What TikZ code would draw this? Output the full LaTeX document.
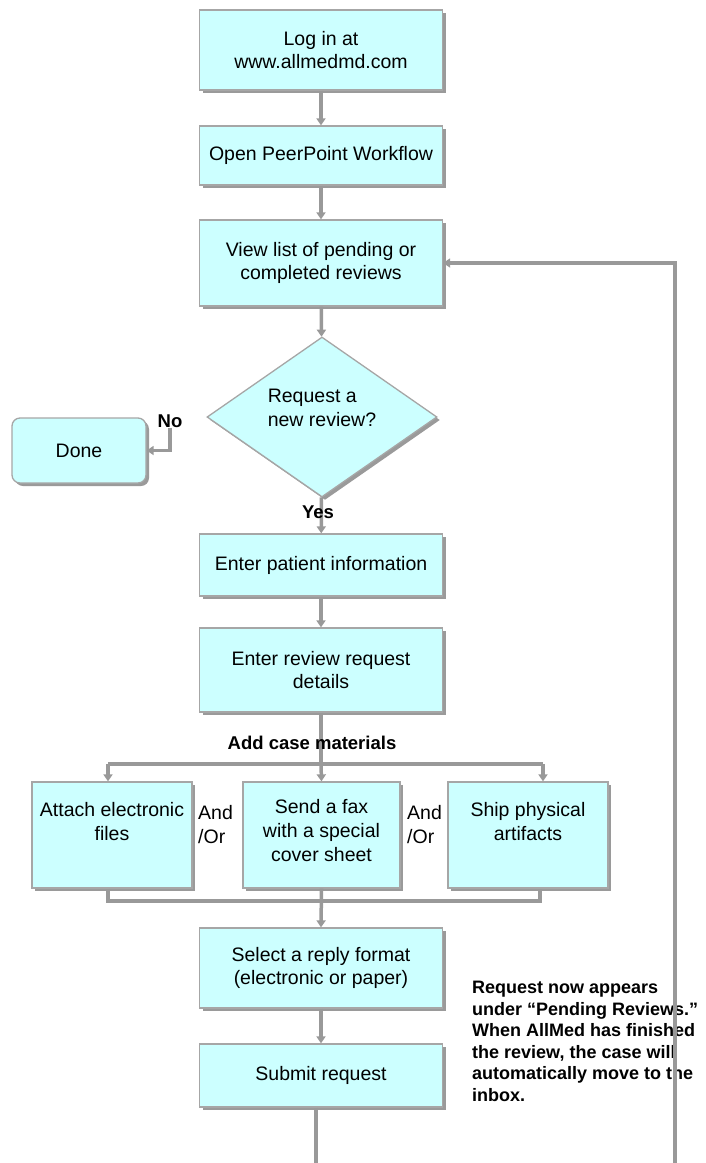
\documentclass[tikz,border=0pt]{standalone}
\usepackage{fontspec}
\setmainfont{Liberation Sans}
\usetikzlibrary{arrows.meta,shapes.geometric,shadows}
\definecolor{boxfill}{HTML}{CCFFFF}
\definecolor{linegray}{HTML}{999999}
\definecolor{edgegray}{HTML}{A6A6A6}
\definecolor{shadowgray}{HTML}{9A9A9A}
\begin{document}
\begin{tikzpicture}[x=1pt,y=-1pt,
  base/.style={draw=edgegray, line width=1.3pt, fill=boxfill, inner sep=0pt,
    drop shadow={shadow xshift=3pt, shadow yshift=-3pt, fill=shadowgray, opacity=1}},
  box/.style={base, align=center, font=\fontsize{19.5}{23}\selectfont},
  txt/.style={align=center, font=\fontsize{19.5}{24}\selectfont, inner sep=0pt},
  lbl/.style={font=\fontsize{18.5}{21}\selectfont\bfseries, inner sep=0pt},
  conn/.style={draw=linegray, line width=3.5pt},
  arr/.style={conn, -{Triangle[length=7pt,width=9pt]}}]
\useasboundingbox (0,0) rectangle (705,1163);

% main column
\node[box, minimum width=243pt, minimum height=80pt] (log) at (321,50) {Log in at\\www.allmedmd.com};
\node[box, minimum width=243pt, minimum height=59pt] (open) at (321,155.5) {Open PeerPoint Workflow};
\node[box, minimum width=243pt, minimum height=86pt] (view) at (321,263) {View list of pending or\\completed reviews};
\node[base, diamond, minimum width=230pt, minimum height=160pt] (dec) at (322,417) {};
\node[txt, align=left] (dect) at (322,408) {Request a\\new review?};
\node[box, rounded corners=8pt, minimum width=134pt, minimum height=65pt] (done) at (79,450.5) {Done};
\node[box, minimum width=243pt, minimum height=62pt] (pat) at (321,565) {Enter patient information};
\node[box, minimum width=243pt, minimum height=84pt] (det) at (321,670) {Enter review request\\details};

% case materials
\node[base, minimum width=160pt, minimum height=106pt] (a) at (112,835) {};
\node[txt] (at) at (112,821.5) {Attach electronic\\files};
\node[base, minimum width=157pt, minimum height=106pt] (b) at (321.5,835) {};
\node[txt] (bt) at (321.5,831) {Send a fax\\with a special\\cover sheet};
\node[base, minimum width=160pt, minimum height=106pt] (c) at (528,835) {};
\node[txt] (ct) at (528,821.5) {Ship physical\\artifacts};
\node[txt, align=left, anchor=west] (ao1) at (198,825) {And\\/Or};
\node[txt, align=left, anchor=west] (ao2) at (407,825) {And\\/Or};

\node[box, minimum width=243pt, minimum height=80pt] (sel) at (321,968) {Select a reply format\\(electronic or paper)};
\node[box, minimum width=243pt, minimum height=63pt] (sub) at (321,1075.5) {Submit request};

\node[lbl, align=left, anchor=north west, font=\fontsize{18}{21.5}\selectfont\bfseries] (note) at (472,981)
  {Request now appears\\under ``Pending Reviews.''\\When AllMed has finished\\the review, the case will\\automatically move to the\\inbox.};

\node[lbl] (no) at (170,421) {No};

% coordinates
\coordinate (split) at (321,764);
\coordinate (dl) at (108,764);
\coordinate (dr) at (543,764);
\coordinate (jl) at (108,901);
\coordinate (jr) at (540,901);
\coordinate (bot) at (316,1163);
\coordinate (fb) at (675,1163);

% connectors
\draw[arr] (log) -- (open);
\draw[arr] (open) -- (view);
\draw[arr] (view) -- (dec);
\draw[arr] (dec) -- (pat);
\draw[arr] (pat) -- (det);
\draw[arr, line join=miter] (no.south) |- (done.east);
\draw[conn] (det.south) -- (split);
\draw[conn] (dl) -- (dr);
\draw[arr] (dl) -- (dl |- a.north);
\draw[arr] (split) -- (b.north);
\draw[arr] (dr) -- (dr |- c.north);
\draw[conn, line join=miter] (a.south -| jl) -- (jl) -- (jr) -- (c.south -| jr);
\draw[arr] (b.south) -- (sel.north);
\draw[arr] (sel) -- (sub);
\draw[conn] (sub.south -| bot) -- (bot);
\draw[arr, line join=miter] (fb) |- (view.east);

% labels over the connectors
\node[lbl] (add) at (312,743) {Add case materials};
\node[lbl] (yes) at (318,512) {Yes};
\end{tikzpicture}
\end{document}
